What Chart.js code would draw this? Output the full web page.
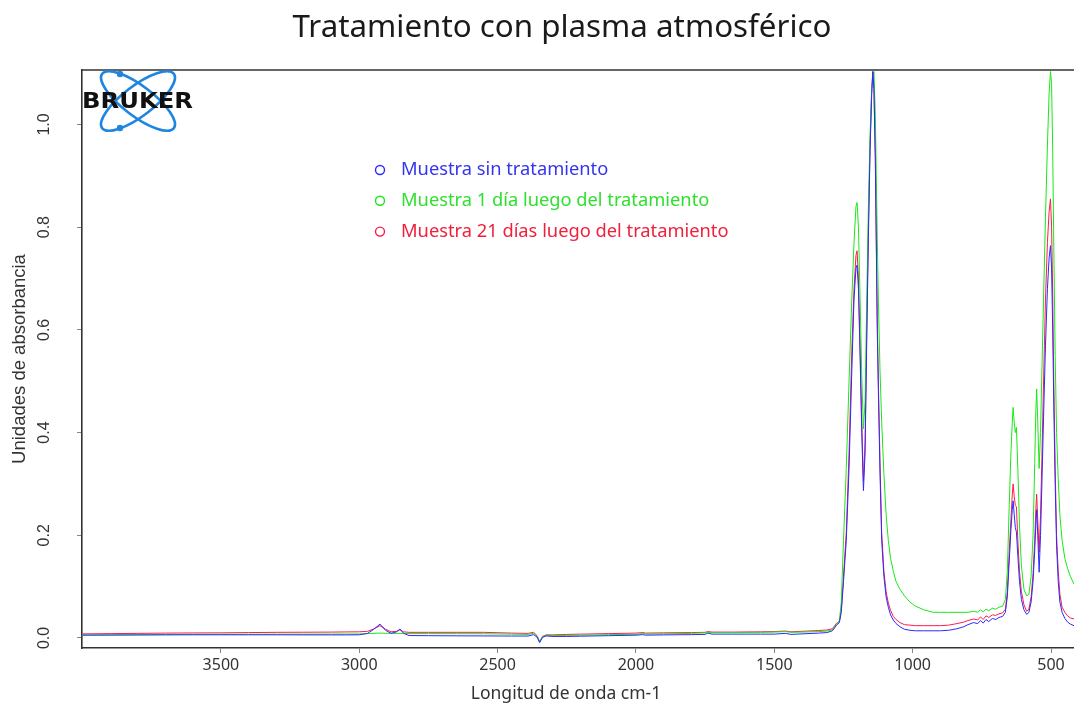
<!DOCTYPE html>
<html>
<head>
<meta charset="utf-8">
<script src="https://cdn.jsdelivr.net/npm/chart.js@4.4.1/dist/chart.umd.min.js"></script>
<style>
  html,body{margin:0;padding:0;background:#fff;overflow:hidden}
  #wrap{width:1074px;height:708px}
</style>
</head>
<body>
<div id="wrap"><canvas id="chart" width="1074" height="708"></canvas></div>
<script>
// numero de onda (cm-1), eje invertido
const wavenumbers = [4000,3900,3800,3700,3600,3500,3400,3300,3200,3100,
  3050,3000,2970,2950,2925,2905,2885,2865,2853,2840,
  2820,2750,2650,2550,2450,2390,2370,2358,2348,2338,
  2325,2300,2250,2200,2100,2000,1975,1965,1900,1800,
  1750,1740,1725,1650,1550,1500,1460,1440,1400,1340,
  1310,1290,1275,1265,1258,1250,1240,1230,1220,1212,
  1205,1201,1196,1190,1184,1178,1172,1166,1160,1154,
  1148,1144,1140,1135,1128,1124,1118,1112,1104,1096,
  1088,1080,1070,1060,1046,1030,1010,990,960,926,
  900,870,840,815,800,780,765,755,745,735,
  725,712,700,688,675,665,658,651,645,640,
  637,633,629,625,620,614,607,598,588,580,
  572,565,559,555,552,548,543,538,533,527,
  520,513,507,502,498,494,490,485,480,474,
  468,460,450,440,430,417];

const sinTratamiento = [0.0055,0.0056,0.0058,0.006,0.0062,0.0062,0.0062,0.0062,0.006,0.006,
  0.006,0.0062,0.009,0.016,0.027,0.015,0.009,0.012,0.0175,0.009,
  0.0048,0.0045,0.0042,0.004,0.0038,0.0038,0.0065,0.002,-0.009,0.001,
  0.004,0.003,0.003,0.0035,0.0045,0.0055,0.0065,0.0055,0.006,0.0065,
  0.007,0.0095,0.0075,0.0075,0.0075,0.0075,0.009,0.007,0.008,0.0095,
  0.0105,0.014,0.025,0.03,0.05,0.11,0.19,0.33,0.52,0.66,
  0.72,0.726,0.68,0.55,0.40,0.287,0.36,0.58,0.78,0.95,
  1.06,1.103,1.07,0.93,0.60,0.48,0.32,0.19,0.12,0.08,
  0.06,0.045,0.035,0.028,0.022,0.017,0.015,0.014,0.014,0.014,
  0.014,0.015,0.018,0.022,0.026,0.03,0.028,0.034,0.029,0.036,
  0.032,0.038,0.036,0.040,0.042,0.050,0.08,0.15,0.21,0.25,
  0.267,0.24,0.215,0.206,0.16,0.11,0.075,0.055,0.046,0.05,
  0.07,0.11,0.17,0.22,0.25,0.20,0.128,0.20,0.30,0.43,
  0.57,0.68,0.74,0.764,0.72,0.60,0.45,0.30,0.18,0.11,
  0.07,0.05,0.038,0.031,0.027,0.024];

const unDia = [0.006,0.0062,0.0065,0.0068,0.007,0.0072,0.0073,0.0074,0.0075,0.0076,
  0.0077,0.0078,0.0085,0.009,0.0095,0.0092,0.009,0.0088,0.009,0.0088,
  0.0086,0.0085,0.0084,0.0082,0.0075,0.007,0.009,0.004,-0.008,0.002,
  0.005,0.005,0.005,0.0055,0.0065,0.0072,0.0085,0.0078,0.008,0.009,
  0.010,0.0115,0.0105,0.0105,0.011,0.0115,0.0125,0.011,0.0115,0.0125,
  0.0135,0.016,0.027,0.033,0.07,0.19,0.33,0.50,0.66,0.77,
  0.84,0.848,0.80,0.66,0.51,0.407,0.46,0.66,0.84,0.98,
  1.07,1.09,1.103,1.02,0.78,0.66,0.52,0.42,0.32,0.24,
  0.19,0.155,0.13,0.11,0.095,0.082,0.07,0.062,0.055,0.05,
  0.05,0.05,0.05,0.05,0.05,0.052,0.05,0.055,0.051,0.056,
  0.053,0.058,0.056,0.06,0.062,0.075,0.13,0.26,0.36,0.42,
  0.449,0.42,0.40,0.41,0.33,0.22,0.14,0.095,0.082,0.085,
  0.12,0.20,0.34,0.44,0.485,0.42,0.33,0.40,0.52,0.66,
  0.82,0.96,1.06,1.103,1.08,0.95,0.76,0.55,0.40,0.31,
  0.24,0.19,0.155,0.135,0.12,0.105];

const veintiunDias = [0.008,0.0085,0.009,0.0095,0.0098,0.010,0.0105,0.011,0.0112,0.0115,
  0.0118,0.012,0.013,0.017,0.024,0.017,0.012,0.013,0.016,0.012,
  0.011,0.011,0.011,0.011,0.0095,0.009,0.011,0.005,-0.007,0.003,
  0.006,0.006,0.007,0.0075,0.0085,0.0095,0.0105,0.0095,0.010,0.0105,
  0.011,0.0125,0.0115,0.0115,0.012,0.0125,0.0135,0.012,0.013,0.0145,
  0.0155,0.018,0.029,0.032,0.055,0.12,0.205,0.36,0.56,0.68,
  0.745,0.754,0.70,0.56,0.42,0.306,0.38,0.60,0.80,0.96,
  1.07,1.103,1.07,0.94,0.62,0.50,0.34,0.205,0.13,0.09,
  0.068,0.054,0.042,0.036,0.030,0.026,0.025,0.024,0.024,0.024,
  0.024,0.025,0.028,0.031,0.034,0.037,0.035,0.041,0.036,0.043,
  0.040,0.045,0.044,0.047,0.049,0.056,0.09,0.17,0.23,0.28,
  0.30,0.275,0.258,0.255,0.19,0.13,0.09,0.065,0.052,0.056,
  0.08,0.125,0.19,0.25,0.28,0.23,0.167,0.24,0.35,0.50,
  0.66,0.77,0.83,0.855,0.80,0.67,0.50,0.33,0.20,0.13,
  0.085,0.06,0.05,0.043,0.039,0.037];

const xTicks = [3500,3000,2500,2000,1500,1000,500];
const yTicks = [0,0.2,0.4,0.6,0.8,1.0];

const series = [
  {label:"Muestra sin tratamiento", values:sinTratamiento, color:"#2a2aff", text:"#3535ee"},
  {label:"Muestra 1 día luego del tratamiento", values:unDia, color:"#18e818", text:"#2fe02f"},
  {label:"Muestra 21 días luego del tratamiento", values:veintiunDias, color:"#ff1a48", text:"#f0203c"}
];

const toPoints = ys => wavenumbers.map((x,i)=>({x, y:ys[i]}));

function drawLogo(ctx){
  ctx.save();
  ctx.strokeStyle = "#1f86e0";
  ctx.fillStyle = "#1f86e0";
  ctx.lineWidth = 2.6;
  [0.65,-0.65].forEach(r=>{
    ctx.beginPath();
    ctx.ellipse(138,101,45,15,r,0,Math.PI*2);
    ctx.stroke();
  });
  [[120,74],[120,128]].forEach(([x,y])=>{
    ctx.beginPath(); ctx.arc(x,y,3.2,0,Math.PI*2); ctx.fill();
  });
  ctx.font = 'bold 22px "DejaVu Sans"';
  const w = ctx.measureText("BRUKER").width;
  ctx.translate(82,108);
  ctx.scale(111/w,1);
  ctx.fillStyle = "#111";
  ctx.textBaseline = "alphabetic";
  ctx.fillText("BRUKER",0,0);
  ctx.restore();
}

const decor = {
  id:"decor",
  afterDraw(chart){
    const {ctx, chartArea:a, scales} = chart;
    ctx.save();
    // borde superior
    ctx.strokeStyle = "#333";
    ctx.lineWidth = 1.6;
    ctx.beginPath(); ctx.moveTo(a.left,a.top); ctx.lineTo(a.right,a.top); ctx.stroke();

    // titulo
    ctx.fillStyle = "#1a1a1a";
    ctx.font = '31.3px "Noto Sans"';
    ctx.textAlign = "center";
    ctx.textBaseline = "middle";
    ctx.fillText("Tratamiento con plasma atmosférico",562,28);

    // titulo eje x
    ctx.fillStyle = "#333";
    ctx.font = '17.5px "Noto Sans"';
    ctx.fillText("Longitud de onda cm-1",566,694);

    // etiquetas eje y (rotadas)
    ctx.font = '16px "Liberation Sans"';
    yTicks.forEach(v=>{
      const y = scales.y.getPixelForValue(v);
      ctx.save();
      ctx.translate(45,y);
      ctx.rotate(-Math.PI/2);
      ctx.fillText(v.toFixed(1),0,0);
      ctx.restore();
    });

    // leyenda
    ctx.textAlign = "left";
    ctx.font = '18.3px "Noto Sans"';
    series.forEach((s,i)=>{
      const y = 170 + i*30.8;
      ctx.strokeStyle = s.color;
      ctx.lineWidth = 1.4;
      ctx.beginPath(); ctx.arc(380,y,4.5,0,Math.PI*2); ctx.stroke();
      ctx.fillStyle = s.text;
      ctx.fillText(s.label,401,y);
    });
    ctx.restore();

    drawLogo(ctx);
  }
};

new Chart(document.getElementById("chart"), {
  type:"line",
  data:{
    datasets: series.map(s=>({
      label:s.label, data:toPoints(s.values),
      borderColor:s.color, borderWidth:1, pointRadius:0, tension:0, fill:false
    }))
  },
  options:{
    responsive:false, animation:false,
    layout:{ padding:{ top:70, right:0, bottom:0, left:0 } },
    plugins:{ legend:{display:false}, tooltip:{enabled:false}, title:{display:false} },
    scales:{
      x:{
        type:"linear", reverse:true, min:417, max:4002,
        afterBuildTicks: s => { s.ticks = xTicks.map(v=>({value:v})); },
        afterFit: s => { s.height = 60; },
        grid:{ drawOnChartArea:false, drawTicks:true, tickLength:5, color:"#888", tickWidth:1 },
        border:{ display:true, color:"#333", width:1.6 },
        ticks:{ font:{family:"Noto Sans", size:16}, color:"#333", padding:3, maxRotation:0, autoSkip:false,
          callback: v => String(v) }
      },
      y:{
        min:-0.0195, max:1.106,
        afterBuildTicks: s => { s.ticks = yTicks.map(v=>({value:v})); },
        afterFit: s => { s.width = 82; },
        grid:{ drawOnChartArea:false, drawTicks:true, tickLength:5, color:"#888", tickWidth:1 },
        border:{ display:true, color:"#333", width:1.6 },
        ticks:{ display:false },
        title:{ display:true, text:"Unidades de absorbancia", color:"#333",
          font:{family:"Liberation Sans", size:18.5}, padding:{top:9, bottom:0} }
      }
    }
  },
  plugins:[decor]
});
</script>
</body>
</html>
